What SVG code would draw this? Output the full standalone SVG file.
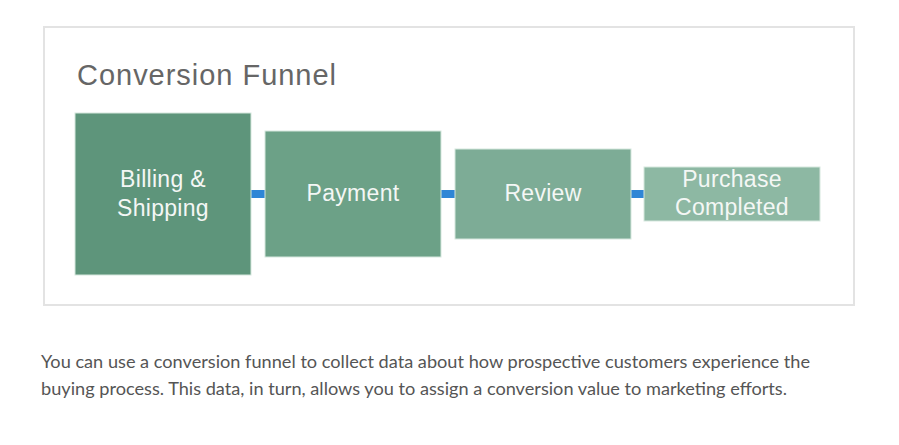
<svg xmlns="http://www.w3.org/2000/svg" width="899" height="445" viewBox="0 0 899 445">
<style>
.frame{fill:#fff;stroke:#e3e3e3;stroke-width:2}
.node{stroke:#d6e7de;stroke-width:1}
.lbl{font-family:"Liberation Sans",Arial,sans-serif;font-size:23px;fill:#f4f7f5;text-anchor:middle;letter-spacing:0.3px}
.title{font-family:"Liberation Sans",Arial,sans-serif;font-size:29px;fill:#666}
.para{font-family:Lato,"Open Sans",sans-serif;font-size:18px;fill:#555}
.conn{fill:#2f86d6}
</style>
<rect x="0" y="0" width="899" height="445" fill="#fff"/>
<rect class="frame" x="44" y="27" width="810" height="278"/>
<text class="title" x="77" y="85" textLength="259" lengthAdjust="spacing">Conversion Funnel</text>
<g id="connectors">
<rect class="conn" x="251" y="190" width="14" height="8"/>
<rect class="conn" x="441" y="190" width="14" height="8"/>
<rect class="conn" x="631" y="190" width="13" height="8"/>
</g>
<g id="billing">
<rect class="node" x="75" y="113" width="176" height="162" fill="#5e957b"/>
<text class="lbl" x="163" y="187">Billing &amp;</text>
<text class="lbl" x="163" y="216">Shipping</text>
</g>
<g id="payment">
<rect class="node" x="265" y="131" width="176" height="126" fill="#6ca187"/>
<text class="lbl" x="353" y="201">Payment</text>
</g>
<g id="review">
<rect class="node" x="455" y="149" width="176" height="90" fill="#7dac96"/>
<text class="lbl" x="543" y="201">Review</text>
</g>
<g id="purchase">
<rect class="node" x="644" y="167" width="176" height="54" fill="#8db8a3"/>
<text class="lbl" x="732" y="187">Purchase</text>
<text class="lbl" x="732" y="215">Completed</text>
</g>
<text class="para" x="41" y="368" textLength="769" lengthAdjust="spacingAndGlyphs">You can use a conversion funnel to collect data about how prospective customers experience the</text>
<text class="para" x="41" y="395" textLength="746" lengthAdjust="spacingAndGlyphs">buying process. This data, in turn, allows you to assign a conversion value to marketing efforts.</text>
</svg>
